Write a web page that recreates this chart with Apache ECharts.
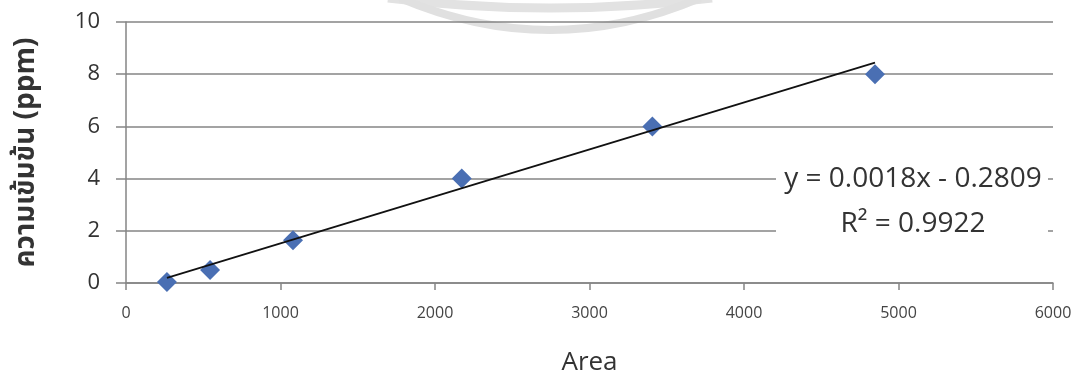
<!DOCTYPE html>
<html>
<head>
<meta charset="utf-8">
<script src="https://cdn.jsdelivr.net/npm/echarts@6/dist/echarts.min.js"></script>
<style>
  html, body { margin: 0; padding: 0; background: #ffffff; }
  #chart { width: 1075px; height: 373px; }
</style>
</head>
<body>
<div id="chart"></div>
<script>
// Calibration standards: peak area vs. concentration
const areas = [265, 544, 1081, 2173, 3407, 4848];
const concentrations = [0.04, 0.5, 1.64, 4.0, 6.0, 8.0];

// Linear trendline as reported: y = slope * x + intercept
const slope = 0.0018;
const intercept = -0.2809;
const rSquared = 0.9922;

const xTicks = [0, 1000, 2000, 3000, 4000, 5000, 6000];
const yTicks = [0, 2, 4, 6, 8, 10];

const xAxisTitle = 'Area';
const yAxisTitle = 'ความเข้มข้น (ppm)';

const points = areas.map((a, i) => [a, concentrations[i]]);
const xMin = Math.min(...areas), xMax = Math.max(...areas);
const trend = [[xMin, slope * xMin + intercept], [xMax, slope * xMax + intercept]];

const eqText = 'y = ' + slope.toFixed(4) + 'x - ' + Math.abs(intercept).toFixed(4);
const r2Text = 'R² = ' + rSquared.toFixed(4);

const gridColor = '#858585';
const chart = echarts.init(document.getElementById('chart'), null, { renderer: 'canvas' });

chart.setOption({
  backgroundColor: '#ffffff',
  animation: false,
  grid: { left: 126, right: 22, top: 22, bottom: 90, containLabel: false, outerBoundsMode: 'none' },
  xAxis: {
    type: 'value',
    min: xTicks[0], max: xTicks[xTicks.length - 1], interval: 1000,
    name: xAxisTitle,
    nameLocation: 'middle',
    nameGap: 80,
    nameTextStyle: { fontFamily: 'Open Sans', fontSize: 26, color: '#333333', verticalAlign: 'middle' },
    axisLine: { show: true, lineStyle: { color: gridColor, width: 1.5 } },
    axisTick: { show: true, length: 7, lineStyle: { color: gridColor, width: 1.5 } },
    axisLabel: { margin: 22, fontFamily: 'Open Sans', fontSize: 16, color: '#444444',
                 formatter: v => String(v) },
    splitLine: { show: false }
  },
  yAxis: {
    type: 'value',
    min: yTicks[0], max: yTicks[yTicks.length - 1], interval: 2,
    name: yAxisTitle,
    nameLocation: 'middle',
    nameGap: 98,
    nameRotate: 90,
    nameTextStyle: { fontFamily: 'Noto Sans Thai, Noto Sans, Tahoma, sans-serif', fontSize: 28, fontWeight: 'bold', color: '#333333', verticalAlign: 'middle' },
    axisLine: { show: true, lineStyle: { color: gridColor, width: 1.5 } },
    axisTick: { show: true, length: 10, lineStyle: { color: gridColor, width: 1.5 } },
    axisLabel: { margin: 26, fontFamily: 'Open Sans', fontSize: 22, color: '#333333',
                 formatter: v => String(v) },
    splitLine: { show: true, lineStyle: { color: gridColor, width: 1.5 } }
  },
  graphic: [
    // faint circular stamp arcs along the top edge
    { type: 'bezierCurve', silent: true, z: 0,
      shape: { x1: 388, y1: -2, x2: 712, y2: -2, cpx1: 550, cpy1: 18 },
      style: { fill: null, stroke: '#e2e2e2', lineWidth: 9 } },
    { type: 'bezierCurve', silent: true, z: 0,
      shape: { x1: 400, y1: -2, x2: 700, y2: -2, cpx1: 550, cpy1: 62 },
      style: { fill: null, stroke: '#e0e0e0', lineWidth: 8 } },
    // trendline equation box
    { type: 'rect', z: 50, shape: { x: 776, y: 152, width: 272, height: 96 },
      style: { fill: '#ffffff' } },
    { type: 'text', z: 51, x: 913, y: 179,
      style: { text: eqText, fontFamily: 'Open Sans', fontSize: 28, fill: '#333333',
               align: 'center', verticalAlign: 'middle' } },
    { type: 'text', z: 51, x: 913, y: 224,
      style: { text: r2Text, fontFamily: 'Open Sans', fontSize: 28, fill: '#333333',
               align: 'center', verticalAlign: 'middle' } }
  ],
  series: [
    {
      name: 'Standards',
      type: 'scatter',
      data: points,
      symbol: 'diamond',
      symbolSize: 20,
      itemStyle: { color: '#4a6fb3', opacity: 1 },
      z: 3
    },
    {
      name: 'Linear fit',
      type: 'line',
      data: trend,
      showSymbol: false,
      symbol: 'none',
      lineStyle: { color: '#111111', width: 1.8 },
      z: 4
    }
  ]
});
</script>
</body>
</html>
